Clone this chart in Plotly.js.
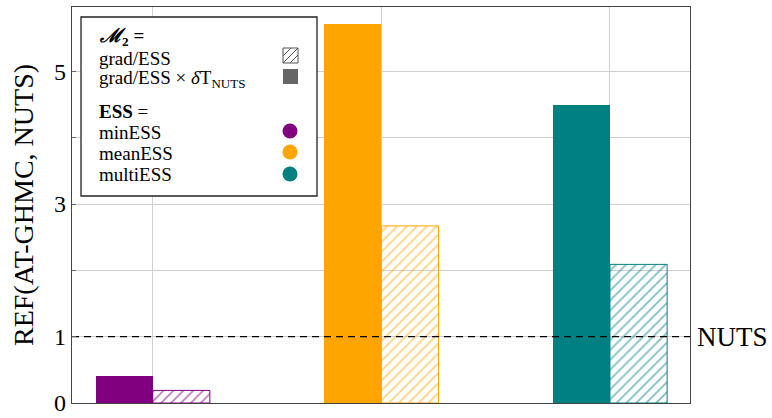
<!DOCTYPE html>
<html>
<head>
<meta charset="utf-8">
<script src="https://cdn.plot.ly/plotly-3.0.1.min.js"></script>
<style>html,body{margin:0;padding:0;background:#fff}#chart{width:772px;height:418px}</style>
</head>
<body>
<div id="chart"></div>
<script>
// Data
const methods = ["minESS", "meanESS", "multiESS"];
const colors = ["#800080", "#FFA500", "#008080"];
const gradEssTimesT = [0.40, 5.72, 4.49];   // solid bars: grad/ESS × δT_NUTS
const gradEss = [0.19, 2.67, 2.09];          // hatched bars: grad/ESS
const positions = [0, 1, 2];
const yTickVals = [0, 1, 2, 3, 4, 5];
const yTickText = ["0", "1", " ", "3", " ", "5"];
const nutsLevel = 1;

const xRange = [-0.353, 2.35];
const yRange = [0, 5.97];

// Plot-area pixel geometry helpers (for legend decorations)
const L = 72, R = 690, T = 7, B = 403;
const px = x => (x - L) / (R - L);
const py = y => (B - y) / (B - T);

const FONT = "Liberation Serif";

const traces = [
  {
    type: "scatter", mode: "lines", x: xRange, y: [nutsLevel, nutsLevel],
    line: { color: "#000", width: 1.2, dash: "7px,5px" }, hoverinfo: "skip", showlegend: false, cliponaxis: false
  },
  {
    type: "bar", x: positions, y: gradEssTimesT,
    offset: -0.25, width: 0.25,
    marker: { color: colors, line: { width: 0 } },
    hoverinfo: "skip", showlegend: false
  },
  {
    type: "bar", x: positions, y: gradEss,
    offset: 0, width: 0.25,
    marker: {
      color: "rgba(0,0,0,0)",
      line: { color: colors, width: 1 },
      pattern: { shape: "/", fgcolor: colors, bgcolor: "rgba(0,0,0,0)", size: 7, solidity: 0.25, fillmode: "overlay" }
    },
    hoverinfo: "skip", showlegend: false
  }
];

const shapes = [
  // legend box
  { type: "rect", xref: "paper", yref: "paper", x0: px(81), x1: px(317), y0: py(196), y1: py(17),
    line: { color: "#222", width: 1.3 }, fillcolor: "#fff", layer: "above" },
  // hatched swatch
  { type: "rect", xref: "paper", yref: "paper", x0: px(283), x1: px(298), y0: py(63), y1: py(48),
    line: { color: "#555", width: 1 }, fillcolor: "#fff", layer: "above" },
  { type: "line", xref: "paper", yref: "paper", x0: px(283), x1: px(291), y0: py(56), y1: py(48),
    line: { color: "#555", width: 1 }, layer: "above" },
  { type: "line", xref: "paper", yref: "paper", x0: px(283), x1: px(298), y0: py(63), y1: py(48),
    line: { color: "#555", width: 1 }, layer: "above" },
  { type: "line", xref: "paper", yref: "paper", x0: px(290), x1: px(298), y0: py(63), y1: py(55),
    line: { color: "#555", width: 1 }, layer: "above" },
  // solid swatch
  { type: "rect", xref: "paper", yref: "paper", x0: px(283), x1: px(298), y0: py(84), y1: py(69),
    line: { color: "#666", width: 0 }, fillcolor: "#666", layer: "above" }
];
const circY = [131, 152, 174];
colors.forEach((c, i) => {
  shapes.push({ type: "circle", xref: "paper", yref: "paper",
    x0: px(282.5), x1: px(297.5), y0: py(circY[i] + 7.5), y1: py(circY[i] - 7.5),
    line: { width: 0 }, fillcolor: c, layer: "above" });
});

const legText = (text, y, extra) => Object.assign({
  xref: "paper", yref: "paper", x: px(97), y: py(y), xanchor: "left", yanchor: "middle",
  text: text, showarrow: false, font: { family: FONT, size: 19, color: "#000" }
}, extra || {});

const annotations = [
  legText("<b><i>ℳ</i><sub>2</sub> =</b>", 37),
  legText("grad/ESS", 58),
  legText("grad/ESS × <i>δ</i>T<sub><span style='font-size:13px'>NUTS</span></sub>", 79),
  legText("<b>ESS</b> =", 111),
  legText(methods[0], 132),
  legText(methods[1], 153),
  legText(methods[2], 174),
  { xref: "paper", yref: "y", x: px(695), y: nutsLevel, xanchor: "left", yanchor: "middle",
    text: "NUTS", showarrow: false, font: { family: FONT, size: 27, color: "#000" } }
];

const layout = {
  width: 772, height: 418,
  margin: { l: 72, r: 82, t: 7, b: 15, pad: 0 },
  paper_bgcolor: "#fff", plot_bgcolor: "#fff",
  font: { family: FONT, color: "#000" },
  bargap: 0,
  xaxis: {
    range: xRange, tickvals: positions, showticklabels: false,
    showgrid: true, gridcolor: "#d0d0d0", gridwidth: 1,
    zeroline: false, showline: true, linecolor: "#444", linewidth: 1.3, mirror: true,
    ticks: "", fixedrange: true
  },
  yaxis: {
    range: yRange, tickvals: yTickVals, ticktext: yTickText,
    showgrid: true, gridcolor: "#d0d0d0", gridwidth: 1,
    zeroline: false, showline: true, linecolor: "#444", linewidth: 1.3, mirror: true,
    ticks: "inside", ticklen: 4, tickcolor: "#666",
    tickfont: { family: FONT, size: 24, color: "#000" },
    title: { text: "REF(AT-GHMC, NUTS)", font: { family: FONT, size: 28, color: "#000" }, standoff: 12 },
    fixedrange: true
  },
  shapes: shapes,
  annotations: annotations
};

Plotly.newPlot("chart", traces, layout, { displayModeBar: false, staticPlot: true });
</script>
</body>
</html>
